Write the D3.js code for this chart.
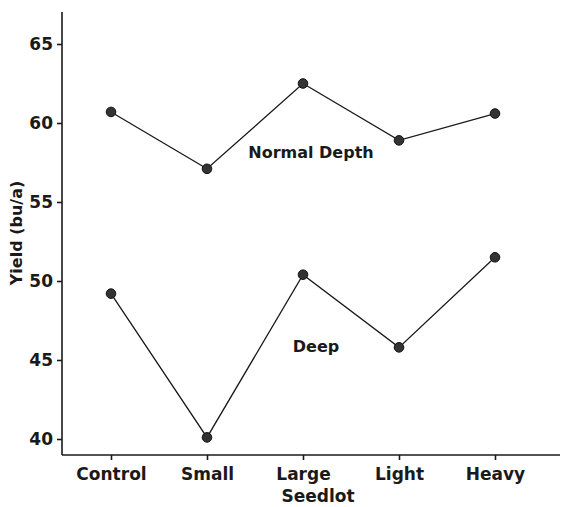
<!DOCTYPE html>
<html lang="en">
<head>
<meta charset="UTF-8">
<title>Yield by Seedlot</title>
<script src="https://d3js.org/d3.v7.min.js"></script>
<style>
  body { margin: 0; background: #fff; }
  text { font-family: "DejaVu Sans", "Liberation Sans", Arial, sans-serif; font-weight: bold; fill: #1a1a1a; }
  .axis path, .axis line { stroke: #1a1a1a; stroke-width: 1.6px; }
  .series { fill: none; stroke: #1a1a1a; stroke-width: 1.3px; }
  .dot { fill: #333; stroke: #111; stroke-width: 1px; }
</style>
</head>
<body>
<svg id="chart" width="572" height="507"></svg>
<script>
  const seedlots = ["Control", "Small", "Large", "Light", "Heavy"];
  const normalDepth = [60.7, 57.1, 62.5, 58.9, 60.6];
  const deep = [49.2, 40.1, 50.4, 45.8, 51.5];
  const yTicks = [40, 45, 50, 55, 60, 65];

  const svg = d3.select("#chart");
  const axisLeftX = 62, axisBottomY = 455, axisTopY = 12, axisRightX = 560;

  const x = d3.scalePoint().domain(seedlots).range([111, 495]);
  const y = d3.scaleLinear().domain([40, 65]).range([439, 44]);

  // axes
  const yAxis = svg.append("g")
    .attr("class", "axis")
    .attr("transform", `translate(${axisLeftX},0)`)
    .call(d3.axisLeft(y).tickValues(yTicks).tickSize(5).tickPadding(4));
  yAxis.select(".domain").attr("d", `M0,${axisTopY}V${axisBottomY}`);
  yAxis.selectAll("text").style("font-size", "17px");

  const xAxis = svg.append("g")
    .attr("class", "axis")
    .attr("transform", `translate(0,${axisBottomY})`)
    .call(d3.axisBottom(x).tickSize(5).tickPadding(8));
  xAxis.select(".domain").attr("d", `M${axisLeftX},0H${axisRightX}`);
  xAxis.selectAll("text").style("font-size", "17px");

  svg.append("text")
    .attr("transform", `translate(22,233) rotate(-90)`)
    .attr("text-anchor", "middle")
    .style("font-size", "16px")
    .text("Yield (bu/a)");

  svg.append("text")
    .attr("x", 318).attr("y", 502)
    .attr("text-anchor", "middle")
    .style("font-size", "17px")
    .text("Seedlot");

  const line = d3.line().x((d, i) => x(seedlots[i])).y(d => y(d));

  [normalDepth, deep].forEach(vals => {
    svg.append("path").datum(vals).attr("class", "series").attr("d", line);
    svg.selectAll(null).data(vals).enter().append("circle")
      .attr("class", "dot")
      .attr("cx", (d, i) => x(seedlots[i]))
      .attr("cy", d => y(d))
      .attr("r", 4.8);
  });

  svg.append("text")
    .attr("x", 311).attr("y", 158)
    .attr("text-anchor", "middle")
    .style("font-size", "16px")
    .text("Normal Depth");

  svg.append("text")
    .attr("x", 316).attr("y", 352)
    .attr("text-anchor", "middle")
    .style("font-size", "16px")
    .text("Deep");
</script>
</body>
</html>
